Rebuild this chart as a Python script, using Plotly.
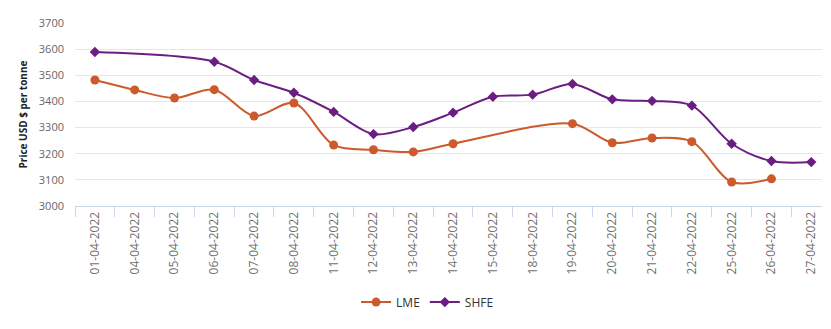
import plotly.graph_objects as go

dates = ["01-04-2022", "04-04-2022", "05-04-2022", "06-04-2022", "07-04-2022",
         "08-04-2022", "11-04-2022", "12-04-2022", "13-04-2022", "14-04-2022",
         "15-04-2022", "18-04-2022", "19-04-2022", "20-04-2022", "21-04-2022",
         "22-04-2022", "25-04-2022", "26-04-2022", "27-04-2022"]

lme = [3482, 3444, 3413, 3445, 3344, 3394, 3233, 3215, 3207, 3238,
       None, None, 3315, 3242, 3260, 3246, 3092, 3104, None]

shfe = [3589, None, None, 3552, 3482, 3433, 3360, 3275, 3302, 3357,
        3418, 3426, 3467, 3408, 3402, 3384, 3238, 3172, 3168]

y_ticks = [3000, 3100, 3200, 3300, 3400, 3500, 3600, 3700]

LME_COLOR = "#cc5a2c"
SHFE_COLOR = "#6b1d82"

fig = go.Figure()
fig.add_trace(go.Scatter(
    x=dates, y=lme, name="LME", mode="lines+markers",
    line=dict(color=LME_COLOR, width=2, shape="spline", smoothing=0.9),
    marker=dict(symbol="circle", size=9, color=LME_COLOR),
    connectgaps=True,
))
fig.add_trace(go.Scatter(
    x=dates, y=shfe, name="SHFE", mode="lines+markers",
    line=dict(color=SHFE_COLOR, width=2, shape="spline", smoothing=0.9),
    marker=dict(symbol="diamond", size=8, color=SHFE_COLOR),
    connectgaps=True,
))

fig.update_layout(
    width=831, height=329,
    margin=dict(l=75, r=9, t=23, b=123),
    paper_bgcolor="white", plot_bgcolor="white",
    font=dict(family="Open Sans, sans-serif", color="#666666"),
    showlegend=True,
    legend=dict(orientation="h", x=0.472, xanchor="center", y=-0.525, yanchor="middle",
                font=dict(size=12, color="#333333", family="Open Sans, sans-serif"),
                itemwidth=30, tracegroupgap=0),
    xaxis=dict(
        type="category", categoryorder="array", categoryarray=dates,
        range=[-0.5, 18.27],
        tickson="boundaries", ticks="outside", ticklen=10, tickcolor="#ccd6eb",
        showline=True, linecolor="#ccd6eb", linewidth=1,
        showgrid=False, tickangle=-90,
        tickfont=dict(size=12, color="#707070"),
    ),
    yaxis=dict(
        range=[3000, 3700], tickvals=y_ticks,
        showgrid=True, gridcolor="#e6e6e6", gridwidth=1,
        zeroline=False, showline=False, ticks="",
        ticklabelstandoff=10,
        tickfont=dict(size=11, color="#666666"),
        title=dict(text="<b>Price USD $ per tonne</b>", standoff=9,
                   font=dict(size=10, color="#222222")),
    ),
)

fig.write_html("out.html")
